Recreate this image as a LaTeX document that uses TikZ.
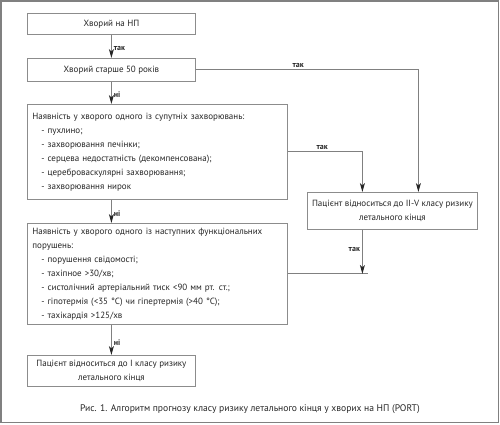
\documentclass[tikz,border=0pt]{standalone}
\usepackage{fontspec}
\setmainfont{PT Sans}
\usetikzlibrary{arrows.meta}

\begin{document}
\begin{tikzpicture}[x=1pt,y=-1pt,
  box/.style={draw=black!45, line width=0.8pt, fill=white, inner sep=3pt,
    font=\fontsize{9}{14}\selectfont, text=black!85},
  line/.style={draw=black!50, line width=0.9pt},
  arr/.style={line, -{Stealth[length=9pt,width=5pt,inset=2.5pt,black!85]}},
  lbl/.style={font=\fontsize{8}{9}\selectfont\bfseries, text=black!85, inner sep=2pt}]
  \useasboundingbox (0,0) rectangle (500,424);
  \draw[black!50, line width=1.4pt] (1,1) rectangle (498.5,422.5);
  % boxes
  \node[box, anchor=north west, minimum width=168, minimum height=21] (b1) at (27,13) {Хворий на НП};
  \node[box, anchor=north west, minimum width=168, minimum height=23] (b2) at (27,58) {Хворий старше 50 років};
  \node[box, anchor=north west, minimum width=260, minimum height=95, text width=250, align=left] (b3) at (27,104)
    {Наявність у хворого одного із супутніх захворювань:\\
     \hspace*{9pt}- пухлино;\\
     \hspace*{9pt}- захворювання печінки;\\
     \hspace*{9pt}- серцева недостатність (декомпенсована);\\
     \hspace*{9pt}- цереброваскулярні захворювання;\\
     \hspace*{9pt}- захворювання нирок};
  \node[box, anchor=north west, minimum width=170, minimum height=37, align=center] (b4) at (307,192)
    {Пацієнт відноситься до II-V класу ризику\\летального кінця};
  \node[box, anchor=north west, minimum width=260, minimum height=101, text width=250, align=left] (b5) at (27,223)
    {Наявність у хворого одного із наступних функціональних\\
     порушень:\\
     \hspace*{9pt}- порушення свідомості;\\
     \hspace*{9pt}- тахіпное >30/хв;\\
     \hspace*{9pt}- систолічний артеріальний тиск <90 мм рт. ст.;\\
     \hspace*{9pt}- гіпотермія (<35 °C) чи гіпертермія (>40 °C);\\
     \hspace*{9pt}- тахікардія >125/хв};
  \node[box, anchor=north west, minimum width=168, minimum height=31, align=center] (b6) at (27,355)
    {Пацієнт відноситься до I класу ризику\\летального кінця};
  \node[font=\fontsize{9.6}{12}\selectfont, text=black!85] (cap) at (250,409)
    {Рис. 1. Алгоритм прогнозу класу ризику летального кінця у хворих на НП (PORT)};
  % connectors
  \draw[arr] (b1) -- node[lbl, right, pos=0.6] {так} (b2);
  \draw[arr] (b2.south) -- node[lbl, right, pos=0.6] {ні} (b2.south |- b3.north);
  \draw[arr] (b3.south -| b1) -- node[lbl, right, pos=0.6] {ні} (b5.north -| b1);
  \draw[arr] (b5.south -| b6) -- node[lbl, right, pos=0.6] {ні} (b6.north);
  \draw[arr] (b2.east) -| node[lbl, above, pos=0.23] {так} ([xshift=26pt]b4.north);
  \draw[arr] (b3.east) -| node[lbl, above, pos=0.23] {так} ([xshift=-30pt]b4.north);
  \draw[line] (b5.east) -- ++(80,0) coordinate (j);
  \draw[arr] ([xshift=-30pt]b4.south) -- node[lbl, left, pos=0.45] {так} ([xshift=-30pt]b4.south |- j);
\end{tikzpicture}
\end{document}
